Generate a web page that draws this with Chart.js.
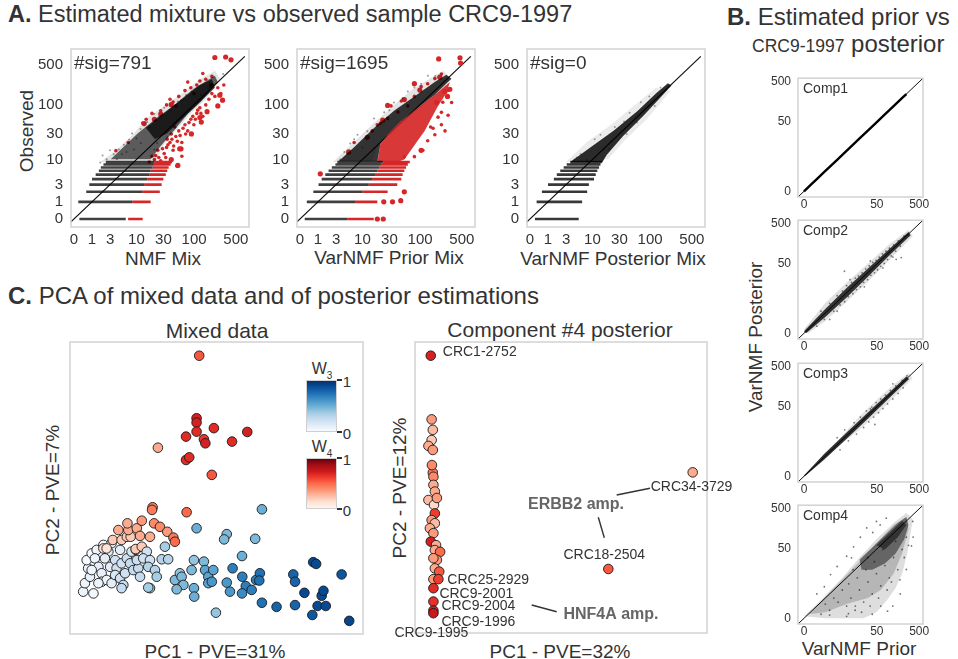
<!DOCTYPE html>
<html><head><meta charset="utf-8">
<script src="https://cdn.jsdelivr.net/npm/chart.js@4.4.1/dist/chart.umd.min.js"></script>
<style>
html,body{margin:0;padding:0;background:#fff}
body{width:958px;height:659px;position:relative;overflow:hidden;font-family:"Liberation Sans",Arial,Helvetica,sans-serif;color:#333}
.tx{position:absolute;white-space:nowrap;line-height:1}
.c{transform:translate(-50%,-50%)}
.r{transform:translate(-50%,-50%) rotate(-90deg)}
canvas{position:absolute}
.bar{position:absolute;width:31px;box-sizing:border-box;border:1px solid #cfcfcf}
.tk{position:absolute;width:5px;height:1.5px;background:#333}
</style></head><body>
<div class="tx" style="left:8px;top:3px;font-size:23.5px"><b>A.</b> Estimated mixture vs observed sample CRC9-1997</div>
<div class="tx" style="left:727px;top:5px;font-size:24px"><b>B.</b> Estimated prior vs</div>
<div class="tx" style="left:752px;top:32px;font-size:24px"><span style="font-size:17.5px">CRC9-1997</span> posterior</div>
<div class="tx" style="left:8px;top:284px;font-size:24px"><b>C.</b> PCA of mixed data and of posterior estimations</div>
<div class="tx r" style="left:26px;top:131px;font-size:19px">Observed</div>
<div class="tx c" style="left:163px;top:258px;font-size:19px">NMF Mix</div>
<div class="tx c" style="left:389px;top:257px;font-size:19px">VarNMF Prior Mix</div>
<div class="tx c" style="left:613px;top:258px;font-size:19px">VarNMF Posterior Mix</div>
<div class="tx r" style="left:755px;top:337px;font-size:19px">VarNMF Posterior</div>
<div class="tx c" style="left:859px;top:648px;font-size:19px">VarNMF Prior</div>
<div class="tx c" style="left:217px;top:330px;font-size:21px">Mixed data</div>
<div class="tx c" style="left:560px;top:329px;font-size:21px">Component #4 posterior</div>
<div class="tx c" style="left:215px;top:651px;font-size:19px">PC1 - PVE=31%</div>
<div class="tx c" style="left:560px;top:651px;font-size:19px">PC1 - PVE=32%</div>
<div class="tx r" style="left:52px;top:490px;font-size:19px">PC2 - PVE=7%</div>
<div class="tx r" style="left:399px;top:488px;font-size:19px">PC2 - PVE=12%</div>

<div class="bar" style="left:306px;top:380px;height:52px;background:linear-gradient(to top,#f7fbff,#deebf7,#c6dbef,#9ecae1,#6baed6,#4292c6,#2171b5,#08519c,#08306b)"></div>
<div class="tk" style="left:337px;top:379px"></div><div class="tk" style="left:337px;top:431px"></div>
<div class="tx c" style="left:347px;top:381px;font-size:15px">1</div>
<div class="tx c" style="left:347px;top:433px;font-size:15px">0</div>
<div class="tx c" style="left:322px;top:371px;font-size:16px">W<sub style="font-size:10px">3</sub></div>
<div class="bar" style="left:306px;top:458px;height:51px;background:linear-gradient(to top,#fff5f0,#fee0d2,#fcbba1,#fc9272,#fb6a4a,#ef3b2c,#cb181d,#a50f15,#67000d)"></div>
<div class="tk" style="left:337px;top:457px"></div><div class="tk" style="left:337px;top:508px"></div>
<div class="tx c" style="left:347px;top:459px;font-size:15px">1</div>
<div class="tx c" style="left:347px;top:510px;font-size:15px">0</div>
<div class="tx c" style="left:322px;top:449px;font-size:16px">W<sub style="font-size:10px">4</sub></div>

<script>
// ---------------- DATA ----------------
// Panel A: observed counts vs estimated mixtures (raw counts, shown on log(x+1) axes)
const aTicks = [0, 1, 3, 10, 30, 100, 500];
const obsRows = [0, 1, 2, 3, 4, 5, 6, 7, 8, 9];
const diagA = [-0.11, 707];

// A1: NMF Mix
const nmfBlackFrom = [0.23, 0.18, 0.6, 0.8, 1.0, 1.3, 1.6, 1.8, 2.1, 2.4];
const nmfBlackTo   = [6.3, 8.4, 12.8, 13.8, 15.7, 17, 18, 19.5, 20.5, 21];
const nmfRedFrom   = [7, 8.4, 12.8, 13.8, 15.7, 17, 18, 19.5, 20.5, 21];
const nmfRedTo     = [13, 18, 26, 28, 30, 33, 35, 37, 40, 42];
const nmfHalo = [[1.8,9],[4.6,16.8],[9,30.6],[14.8,55],[30.6,95],[62,157],[125,281],[223,397],[281,281],[157,125],[88,70],[49,34.5],[30.6,19],[21.4,9]];
const nmfCore = [[3.1,10.2],[10.5,30.6],[23.5,59],[46,99],[101,194],[223,323],[250,250],[131,114],[78,68],[46,35],[27,18],[18,10.2]];
const nmfInner = [[14.8,38.8],[30.6,70],[62,125],[125,223],[199,281],[223,199],[125,111],[62,55],[34.5,30.6],[21.4,24.1]];
const nmfGray = [[3.6,12.6],[4.6,15.6],[5.8,19],[7.3,23.5],[8.3,30.6],[11.9,37],[15.6,49],[20.9,68],[31,88],[2.5,10.2],[4.2,10.2],[5.3,12.6],[1.75,8.8],[53,114],[73,148],[23.5,20.4],[35.3,26.5],[20.9,15.6],[46,46],[131,148],[173,194],[308,346],[9,15.6],[12,20.4],[6.5,14],[10,25],[17,40],[25,60],[40,80],[60,120],[90,170],[2,12],[3,15]];
const nmfRed = [[13,47],[15,55],[19,70],[27,78],[34,99],[44,111],[55,140],[70,177],[88,199],[111,223],[125,262],[157,281],[199,315],[99,157],[49,95],[39,125],[78,250],[140,354],[4,14.8],[7,21],[17,9],[21,10],[27,9.5],[31,13],[34,17],[39,21],[44,15],[49,27],[55,34],[62,21],[70,44],[78,34],[88,55],[99,44],[111,70],[125,88],[140,62],[157,99],[177,125],[199,157],[223,140],[250,199],[315,223],[281,157],[24,15],[19,11.6],[51,7.5],[39,9],[62,11.6],[22,12],[25,11],[29,16],[33,11],[36,19],[42,24],[45,18],[52,22],[58,28],[65,38],[72,30],[82,48],[95,62],[105,55],[115,80],[130,70],[35,24],[41,30],[47,40]];
const nmfRedBig = [[223,676],[338,690],[416,617],[270,147],[195,218],[125,59],[132,49],[53,7.7],[41,100],[27,68],[13.8,46],[21,55],[300,120],[250,95],[165,75],[90,30],[60,16],[57,16],[41,10]];

// A2: VarNMF Prior Mix
const varBlackFrom = [0.2, 0.3, 0.67, 1.04, 1.3, 1.64, 2.0, 2.4, 2.9, 3.2];
const varBlackTo   = [5.2, 7.5, 10, 13, 15, 17.3, 18.6, 20, 21.4, 23];
const varRedTo     = [16, 18.5, 28, 41, 48, 50.6, 54, 58, 62, 67];
const varHalo = [[2.55,9],[6.1,19],[11.6,34.5],[19,55],[34.5,95],[70,177],[140,281],[250,397],[315,281],[99,88],[38.8,38.8],[19,19],[14.8,9]];
const varCore = [[3.4,9.3],[6.9,17],[16,38],[36,78],[80,140],[176,250],[277,337],[336,285],[176,150],[92,89],[47,50],[28,29],[21,20],[18.6,9.3]];
const varRedCore = [[18.6,9],[21,20],[28,29],[47,50],[92,89],[176,150],[315,250],[277,160],[200,95],[154,57],[119,34],[92,23],[70,15],[54,10],[41,9]];
const varGray = [[5.9,20],[8.1,29],[12.3,33.6],[16.2,57],[24.4,73],[36,109],[62,170],[104,235],[135,324],[5.1,13],[3.7,10],[10,17],[4.5,14],[7,24],[20,45],[30,80],[50,130],[80,200],[180,320]];
const varRed = [[21,47],[28,57],[42,74],[62,95],[80,140],[104,208],[134,234],[177,288],[228,346],[32,95],[48,116],[18.5,44],[15,34],[7,21],[134,22.6],[177,29],[228,44],[295,65],[262,34],[338,109],[111,15],[80,11.4],[54,11.4],[228,73],[165,38],[240,110],[300,180],[200,60],[150,40]];
const varRedBig = [[205,640],[466,670],[477,540],[214,305],[262,170],[315,187],[288,140],[189,109],[28,97],[54,123],[80,235],[99,181],[23,53],[12.3,26],[5.5,14],[1.18,5.2],[104,15],[54,2],[47,1.1],[18.5,0],[23.5,0],[24,1],[34,1]];

// A3: VarNMF Posterior Mix
const postBlackFrom = [0.21, 0.29, 0.58, 1.0, 1.5, 1.8, 2.2, 2.65, 3.1, 3.7];
const postBlackTo   = [5.5, 6.4, 8.0, 8.6, 10.7, 11.5, 12.3, 13.2, 14, 15];
const postHalo = [[2.98,9],[7.9,21.4],[21.4,43.7],[55,99],[125,199],[223,177],[88,55],[38.8,24.1],[19,10.2]];
const postCore = [[3.7,9],[9,16.8],[24.1,34.5],[62,78.4],[125,157],[199,239],[228,218],[140,125],[78.4,65],[34.5,27.2],[18,12.2],[15.2,9]];
const postGray = [[14,29],[36,50],[6,12.8],[97,140],[16,15.6],[8,9.7],[5,11],[11,24],[25,40],[45,72],[70,110],[150,200],[20,16],[40,30],[60,48],[120,95],[4.5,10]];

// Panel B: prior vs posterior per component
const bTicks = [0, 50, 500];
const diagB = [[-0.28,-0.28],[616,616]];
const comp1Prior = [0, 0.5, 1, 2, 3, 5, 8, 12, 20, 30, 50, 80, 120, 200, 250];
const comp1Post  = [0, 0.5, 1, 2, 3, 5, 8, 12, 20, 30, 50, 80, 120, 200, 250];
const comp2Halo = [[0,0.26],[2.16,4.6],[9,16.8],[30.6,51.5],[99,157],[281,354],[354,250],[99,62],[30.6,18],[9,5],[2.16,1],[0.26,0]];
const comp2Core = [[0,0.12],[2.16,2.98],[9,12.2],[30.6,38.8],[99,119],[281,315],[315,262],[99,82],[30.6,24],[9,6.6],[2.16,1.51],[0.12,0]];
const comp2Gray = [[1,0.5],[1.5,2.5],[2,1.2],[3,4.5],[4,2.5],[5,7.5],[6,4],[7,10],[8,5],[9,14],[10,7],[12,17],[13,8.5],[15,22],[16,11],[18,25],[20,13],[22,30],[24,17],[27,38],[30,20],[33,45],[36,26],[40,55],[44,30],[48,62],[52,36],[57,75],[62,44],[68,90],[75,52],[82,105],[90,65],[100,125],[110,80],[125,150],[140,105],[160,190],[180,140],[220,250],[7.9,33],[144,66],[190,73],[3,1.2],[5,2.5],[11,20],[25,13],[35,60],[70,40],[120,75]];
const comp3Halo = [[1,1.24],[6.9,9],[19,29.2],[62,94.5],[157,223],[281,354],[354,262],[157,111],[62,40.7],[19,13.1],[6.9,5.6],[1.24,1]];
const comp3Core = [[0,0.05],[2,2.6],[9,11],[30,36],[99,115],[250,290],[290,250],[99,85],[30,25],[9,7.5],[2,1.6],[0.05,0]];
const comp3Gray = [[8,13],[10,6.5],[14,20],[16,10],[20,28],[24,15],[28,40],[32,21],[38,50],[42,28],[48,65],[55,36],[62,80],[70,46],[80,100],[90,60],[105,130],[120,80],[140,170],[160,110],[200,230],[210,150],[260,300],[5,8],[6,3.5],[45,18],[120,190],[35,45]];
const comp4Fan = [[0,0.12],[1.51,1.82],[6.9,9],[19,30.6],[49,88],[125,223],[250,397],[354,281],[315,125],[262,38.8],[199,11.6],[140,4.6],[88,1.82],[49,0.41],[24.1,0],[2.16,0]];
const comp4Mid = [[0.26,0.26],[5.3,6.1],[19,24.1],[49,70],[125,199],[250,315],[281,157],[199,38.8],[125,11.6],[62,4],[30.6,2.16],[9,1.24],[2.16,0.41]];
const comp4Core = [[19,27.2],[38.8,55],[78,111],[157,223],[250,315],[281,199],[223,88],[140,38.8],[78,21.4],[38.8,14.8],[21.4,14.8]];
const comp4Dark = [[49,62],[99,125],[199,250],[250,199],[157,99],[78,49]];
const comp4Gray = [[13.5,57],[20,99],[9,33],[5,18],[3.2,11],[28.5,169],[49,245],[84,294],[354,245],[2,5],[1,3],[12,30],[40,130],[60,200],[360,100],[330,60],[250,15],[180,3],[120,1],[90,0.5],[10,0.3],[15,1],[3,0.2],
  [9,1],[11.6,2.16],[14.8,0.58],[19,4],[24.1,1.51],[30.6,6.9],[38.8,3],[49,11.6],[62,5.3],[78,19],[99,9],[125,30.6],[157,14.8],[199,49],[16.8,9],[27.2,14.8],[43.7,24],[70,49],[5.3,1.5],[6.9,4],[10.2,6.1],[21.4,0.41],[34.5,1],[55,2.16],[88,4],[111,6.9],[3,0.58],[4,2.16],[13.1,14.8],[30.6,30.6],[250,99],[281,62],[223,30.6],[177,7.9],[140,78],[62,1],[2.16,1.24],[1.51,0.26],[9,0.12],[38.8,0.26]];

// Panel C: PCA scores (frame-normalised units) and mixture weights
const mixPC1 = [4.5,8.0,5.1,6.8,6.2,5.7,7.4,9.1,8.5,9.7,10.8,10.8,12.5,9.7,7.4,11.4,14.2,13.1,11.9,13.7,14.2,17.1,15.4,15.9,15.4,17.1,18.2,17.6,18.8,17.6,19.4,21.0,20.5,21.6,23.3,23.9,22.8,
 11.4,12.5,14.6,17.6,19.4,20.7,22.5,22.4,24.5,16.5,19.9,22.8,19.6,23.9,27.3,24.5,28.7,30.7,33.2,35.3,35.8,28.2,28.0,39.8,
 26.2,25.0,27.3,26.7,29.0,29.6,27.3,26.7,32.4,31.3,33.5,35.8,37.5,38.1,38.7,36.4,41.5,42.3,45.7,42.3,42.4,46.1,47.2,47.2,48.4,48.9,53.5,54.6,55.5,58.8,60.0,62.0,58.7,63.5,64.8,64.6,76.2,76.8,49.8,65.5,70.5,76.8,80.0,82.7,84.5,87.3,85.9,86.5,83.0,84.0,92.7,95.3,58.7,43.2,53.5,52.6,63.2,65.5,
 30.0,44.1,48.4,43.2,43.2,39.6,43.2,45.7,46.2,49.1,55.3,60.5,39.6,40.7];
const mixPC2 = [14.5,13.9,17.4,19.6,22.5,25.3,27.6,28.8,25.9,23.0,20.8,17.9,18.5,17.4,21.9,30.5,31.1,28.2,25.9,23.0,17.4,28.8,25.3,22.5,20.2,19.1,16.8,15.7,20.8,24.2,25.9,28.2,24.2,21.9,22.5,19.6,25.3,
 29.3,29.3,32.2,32.2,33.3,33.3,28.8,29.1,29.9,35.6,35.6,36.2,37.9,33.6,33.3,38.8,37.9,36.7,35.0,33.0,31.6,43.4,42.5,41.7,
 28.2,25.9,25.3,23.0,21.9,19.6,15.7,15.9,29.9,25.6,25.6,18.5,20.8,19.6,16.8,15.3,21.9,25.3,24.8,15.7,12.8,21.9,19.6,17.4,17.9,21.9,17.6,14.5,22.5,19.6,16.4,15.1,13.9,18.5,20.8,18.3,20.4,17.9,7.3,10.7,9.3,9.9,14.1,6.5,9.6,9.6,13.1,14.8,24.6,24.0,20.4,4.5,26.7,36.2,34.2,32.4,32.6,42.7,
 63.8,95.3,54.5,73.9,72.4,67.6,69.3,66.7,65.3,70.5,65.9,69.2,59.6,60.5];
const mixW3 = [0.05,0.02,0.05,0.08,0.05,0,0,0.05,0.05,0.1,0.08,0.05,0.05,0.05,0.05,0,0.05,0.12,0.1,0.1,0.1,0.1,0.2,0.2,0.15,0.2,0.25,0.25,0.2,0.2,0.22,0.15,0.25,0.25,0.25,0.25,0.22,
 0,0,0,0,0,0,0,0,0,0,0,0,0,0,0,0,0,0,0,0,0,0,0,0,
 0.2,0.2,0.2,0.3,0.3,0.35,0.35,0.35,0.35,0.3,0.3,0.45,0.4,0.45,0.45,0.45,0.45,0.4,0.45,0.5,0.5,0.55,0.55,0.55,0.6,0.55,0.6,0.6,0.7,0.7,0.7,0.7,0.65,0.7,0.75,0.75,0.8,0.8,0.4,0.75,0.8,0.8,0.9,0.85,0.9,0.9,0.9,0.9,0.9,0.9,0.85,0.92,0.5,0.5,0.45,0.45,0.45,0.5,
 0,0,0,0,0,0,0,0,0,0,0,0,0,0];
const mixW4 = [0,0,0,0,0,0,0,0,0,0,0,0,0,0,0,0,0,0,0,0,0,0,0,0,0,0,0,0,0,0,0,0,0,0,0,0,0,
 0.1,0.1,0.2,0.2,0.2,0.2,0.15,0.2,0.2,0.3,0.3,0.3,0.3,0.3,0.3,0.35,0.4,0.4,0.35,0.45,0.5,0.45,0.45,0.5,
 0,0,0,0,0,0,0,0,0,0,0,0,0,0,0,0,0,0,0,0,0,0,0,0,0,0,0,0,0,0,0,0,0,0,0,0,0,0,0,0,0,0,0,0,0,0,0,0,0,0,0,0,0,0,0,0,0,0,
 0.3,0.55,0.55,0.72,0.72,0.68,0.68,0.65,0.72,0.68,0.68,0.72,0.68,0.68];

const comp4PC1 = [5.4,95.1,66.2,5.7,6.1,5.7,4.6,6.1,6.1,6.3,6.3,6.8,4.6,6.5,7.5,5.8,6.8,5.7,6.8,5.1,6.3,5.4,7.2,6.8,8.6,7.5,6.3,6.8,8.3,6.3,8.0,6.3,6.3,6.3,6.3];
const comp4PC2 = [95.3,55.2,22.0,73.4,69.8,66.3,64.3,62.9,55.1,53.7,50.9,48.6,45.7,44.0,46.4,57.7,41.1,38.8,37.7,36.0,34.3,31.4,30.2,28.5,27.9,25.1,25.7,22.2,21.1,18.5,18.5,15.4,10.8,7.7,6.8];
const comp4W4  = [0.72,0.3,0.55,0.35,0.25,0.2,0.3,0.35,0.45,0.4,0.3,0.3,0.25,0.15,0.35,0.4,0.62,0.35,0.25,0.3,0.35,0.72,0.3,0.3,0.5,0.35,0.35,0.3,0.55,0.35,0.62,0.68,0.66,0.72,0.75];
const comp4Names = ['CRC1-2752','CRC34-3729','CRC18-2504','','','','','','','','','','','','','','','','','','','','','','','','','','','','CRC25-2929','CRC9-2001','CRC9-2004','CRC9-1996','CRC9-1995'];

// ---------------- HELPERS ----------------
const FONT = '"Liberation Sans", Arial, Helvetica, sans-serif';
Chart.defaults.font.family = FONT;
Chart.defaults.color = '#333';
const L = v => Math.log10(v + 1);
const P = arr => arr.map(p => ({x: L(p[0]), y: L(p[1])}));
const zipP = (xs, ys) => P(xs.map((x, i) => [x, ys[i]]));
function stripes(rows, from, to) {
  const d = [];
  rows.forEach((r, i) => { d.push({x: L(from[i]), y: L(r)}, {x: L(to[i]), y: L(r)}, {x: NaN, y: NaN}); });
  return d;
}
const lineDS = (data, color, w) => ({data, showLine: true, borderColor: color, borderWidth: w, pointRadius: 0, fill: false, spanGaps: false, borderCapStyle: 'butt'});
const polyDS = (data, color) => ({data, showLine: true, borderWidth: 0, borderColor: 'rgba(0,0,0,0)', backgroundColor: color, pointRadius: 0, fill: 'shape'});
const dotDS = (data, color, r) => ({data, showLine: false, pointRadius: r, pointBackgroundColor: color, backgroundColor: color, pointBorderWidth: 0, borderColor: color});

function hex(h) { return [1, 3, 5].map(i => parseInt(h.substr(i, 2), 16)); }
const BLUES = ['#f7fbff','#deebf7','#c6dbef','#9ecae1','#6baed6','#4292c6','#2171b5','#08519c','#08306b'];
const REDS = ['#fff5f0','#fee0d2','#fcbba1','#fc9272','#fb6a4a','#ef3b2c','#cb181d','#a50f15','#67000d'];
function cmap(stops, t) {
  t = Math.max(0, Math.min(1, t));
  const n = stops.length - 1, i = Math.min(n - 1, Math.floor(t * n)), f = t * n - i;
  const a = hex(stops[i]), b = hex(stops[i + 1]);
  return 'rgb(' + a.map((v, k) => Math.round(v + (b[k] - v) * f)).join(',') + ')';
}
const wColor = (w3, w4) => w4 > w3 ? cmap(REDS, w4) : cmap(BLUES, w3);

function mkCanvas(l, t, w, h) {
  const c = document.createElement('canvas');
  c.width = w; c.height = h;
  c.style.left = l + 'px'; c.style.top = t + 'px'; c.style.width = w + 'px'; c.style.height = h + 'px';
  document.body.appendChild(c);
  return c;
}
const frame = {id: 'frame', afterDatasetsDraw(c) {
  const a = c.chartArea, x = c.ctx;
  x.save(); x.strokeStyle = '#d2d2d2'; x.lineWidth = 1.5;
  x.strokeRect(a.left, a.top, a.right - a.left, a.bottom - a.top); x.restore();
}};
function texts(items, segs) {
  return {id: 'texts', afterDraw(c) {
    const x = c.ctx, a = c.chartArea;
    x.save();
    (segs || []).forEach(s => { x.strokeStyle = '#333'; x.lineWidth = 1.4; x.beginPath(); x.moveTo(a.left + s[0], a.top + s[1]); x.lineTo(a.left + s[2], a.top + s[3]); x.stroke(); });
    x.textBaseline = 'middle';
    items.forEach(it => {
      x.font = it.font; x.fillStyle = it.color || '#333'; x.textAlign = it.align || 'left';
      let px, py;
      if (it.idx != null) { const el = c.getDatasetMeta(0).data[it.idx]; px = el.x + it.dx; py = el.y + it.dy; }
      else { px = a.left + it.dx; py = a.top + it.dy; }
      x.fillText(it.text, px, py);
    });
    x.restore();
  }};
}
const baseOpts = (padding, scales) => ({
  responsive: false, devicePixelRatio: 1, animation: false, events: [],
  layout: {padding}, plugins: {legend: {display: false}, tooltip: {enabled: false}}, scales
});
function logAxis(min, max, ticks, size, fitKey, fitVal, pad) {
  return {type: 'linear', min, max, grid: {display: false, drawTicks: false}, border: {display: false},
    afterBuildTicks: s => { s.ticks = ticks.map(v => ({value: L(v)})); },
    afterFit: s => { s[fitKey] = fitVal; },
    ticks: {autoSkip: false, maxRotation: 0, padding: pad, font: {size}, color: '#333', callback: (v, i) => String(ticks[i])}};
}

// ---------------- PANEL A ----------------
function aChart(frameLeft, ds, sig) {
  const W = 50 + 178 + 16, H = 10 + 185 + 26;
  new Chart(mkCanvas(frameLeft - 50, 32, W, H), {
    type: 'line', data: {datasets: ds},
    options: baseOpts({left: 0, top: 10, right: 16, bottom: 0}, {
      x: logAxis(-0.05, 2.92, aTicks, 15, 'height', 26, 4),
      y: logAxis(-0.14, 2.98, aTicks, 15, 'width', 50, 8)
    }),
    plugins: [frame, texts([{text: sig, dx: 3, dy: 15, font: '19px ' + FONT}])]
  });
}
const diagLine = () => lineDS(P([[diagA[0], diagA[0]], [diagA[1], diagA[1]]]), '#111', 1.2);

aChart(71, [
  polyDS(P(nmfHalo), 'rgba(0,0,0,0.11)'),
  dotDS(P(nmfGray), 'rgba(0,0,0,0.4)', 1),
  lineDS(stripes(obsRows, nmfBlackFrom, nmfBlackTo), 'rgba(0,0,0,0.75)', 2.6),
  polyDS(P(nmfCore), 'rgba(0,0,0,0.6)'),
  polyDS(P(nmfInner), 'rgba(0,0,0,0.7)'),
  lineDS(stripes(obsRows, nmfRedFrom, nmfRedTo), '#d62728', 2.6),
  dotDS(P(nmfRed), '#d62728', 1.8),
  dotDS(P(nmfRedBig), '#d62728', 2.6),
  diagLine()
], '#sig=791');

aChart(297, [
  polyDS(P(varHalo), 'rgba(0,0,0,0.11)'),
  dotDS(P(varGray), 'rgba(0,0,0,0.4)', 1),
  lineDS(stripes(obsRows, varBlackFrom, varBlackTo), 'rgba(0,0,0,0.75)', 2.6),
  polyDS(P(varCore), 'rgba(0,0,0,0.78)'),
  polyDS(P(varRedCore), 'rgba(214,39,40,0.92)'),
  lineDS(stripes(obsRows, varBlackTo, varRedTo), '#d62728', 2.6),
  dotDS(P(varRed), '#d62728', 1.8),
  dotDS(P(varRedBig), '#d62728', 2.6),
  diagLine()
], '#sig=1695');

aChart(527, [
  polyDS(P(postHalo), 'rgba(0,0,0,0.08)'),
  dotDS(P(postGray), 'rgba(0,0,0,0.35)', 1),
  lineDS(stripes(obsRows, postBlackFrom, postBlackTo), 'rgba(0,0,0,0.78)', 2.6),
  polyDS(P(postCore), 'rgba(0,0,0,0.82)'),
  diagLine()
], '#sig=0');

// ---------------- PANEL B ----------------
function bChart(top, ds, name) {
  const W = 38 + 125 + 12, H = 8 + 125 + 18;
  new Chart(mkCanvas(798 - 38, top - 8, W, H), {
    type: 'line', data: {datasets: ds},
    options: baseOpts({left: 0, top: 8, right: 12, bottom: 0}, {
      x: logAxis(-0.14, 2.79, bTicks, 12, 'height', 18, 0),
      y: logAxis(-0.14, 2.79, bTicks, 12, 'width', 38, 7)
    }),
    plugins: [frame, texts([{text: name, dx: 5, dy: 11, font: '14px ' + FONT}])]
  });
}
const diagLineB = () => lineDS(P(diagB), '#111', 1);
bChart(72, [
  lineDS(zipP(comp1Prior, comp1Post), '#000', 2.4),
  diagLineB()
], 'Comp1');
bChart(214, [
  polyDS(P(comp2Halo), 'rgba(0,0,0,0.12)'),
  dotDS(P(comp2Gray), 'rgba(0,0,0,0.5)', 0.9),
  polyDS(P(comp2Core), 'rgba(0,0,0,0.78)'),
  diagLineB()
], 'Comp2');
bChart(357, [
  polyDS(P(comp3Halo), 'rgba(0,0,0,0.11)'),
  dotDS(P(comp3Gray), 'rgba(0,0,0,0.5)', 0.9),
  polyDS(P(comp3Core), 'rgba(0,0,0,0.78)'),
  diagLineB()
], 'Comp3');
bChart(499, [
  polyDS(P(comp4Fan), 'rgba(0,0,0,0.13)'),
  polyDS(P(comp4Mid), 'rgba(0,0,0,0.18)'),
  dotDS(P(comp4Gray), 'rgba(0,0,0,0.55)', 0.9),
  polyDS(P(comp4Core), 'rgba(0,0,0,0.45)'),
  polyDS(P(comp4Dark), 'rgba(0,0,0,0.5)'),
  diagLineB()
], 'Comp4');

// ---------------- PANEL C ----------------
const pcaScales = {x: {type: 'linear', display: false, min: 0, max: 100}, y: {type: 'linear', display: false, min: 0, max: 100}};
new Chart(mkCanvas(60, 332, 313, 312), {
  type: 'line',
  data: {datasets: [{
    data: mixPC1.map((x, i) => ({x, y: mixPC2[i]})), showLine: false, pointRadius: 4.8,
    pointBorderWidth: 0.9, pointBorderColor: '#1a1a1a', clip: false,
    pointBackgroundColor: mixPC1.map((_, i) => wColor(mixW3[i], mixW4[i]))
  }]},
  options: baseOpts(10, pcaScales),
  plugins: [frame]
});

const lblF = '14px ' + FONT, boldF = 'bold 16px ' + FONT;
const lblOff = {'CRC1-2752': [12, -4, 'left'], 'CRC34-3729': [-42, 15, 'left'], 'CRC18-2504': [-4, -14, 'center'],
  'CRC25-2929': [9, 1, 'left'], 'CRC9-2001': [6, 6, 'left'], 'CRC9-2004': [8, 5, 'left'], 'CRC9-1996': [8, 12, 'left'], 'CRC9-1995': [-39, 20, 'left']};
const c4Items = [];
comp4Names.forEach((n, i) => { if (n) { const o = lblOff[n]; c4Items.push({text: n, idx: i, dx: o[0], dy: o[1], align: o[2], font: lblF}); } });
c4Items.push({text: 'ERBB2 amp.', dx: 161, dy: 163, align: 'center', font: boldF, color: '#666'});
c4Items.push({text: 'HNF4A amp.', dx: 196, dy: 273, align: 'center', font: boldF, color: '#666'});
new Chart(mkCanvas(385, 332, 370, 315), {
  type: 'line',
  data: {datasets: [{
    data: comp4PC1.map((x, i) => ({x, y: comp4PC2[i]})), showLine: false, pointRadius: 4.8,
    pointBorderWidth: 0.9, pointBorderColor: '#1a1a1a', clip: false,
    pointBackgroundColor: comp4W4.map(w => cmap(REDS, w))
  }]},
  options: baseOpts({left: 30, top: 10, right: 48, bottom: 14}, pcaScales),
  plugins: [frame, texts(c4Items, [[201.7, 153, 235, 146.3], [183.3, 175.3, 189.3, 195.7], [116.7, 263, 141.7, 269.7]])]
});
</script>
</body></html>
